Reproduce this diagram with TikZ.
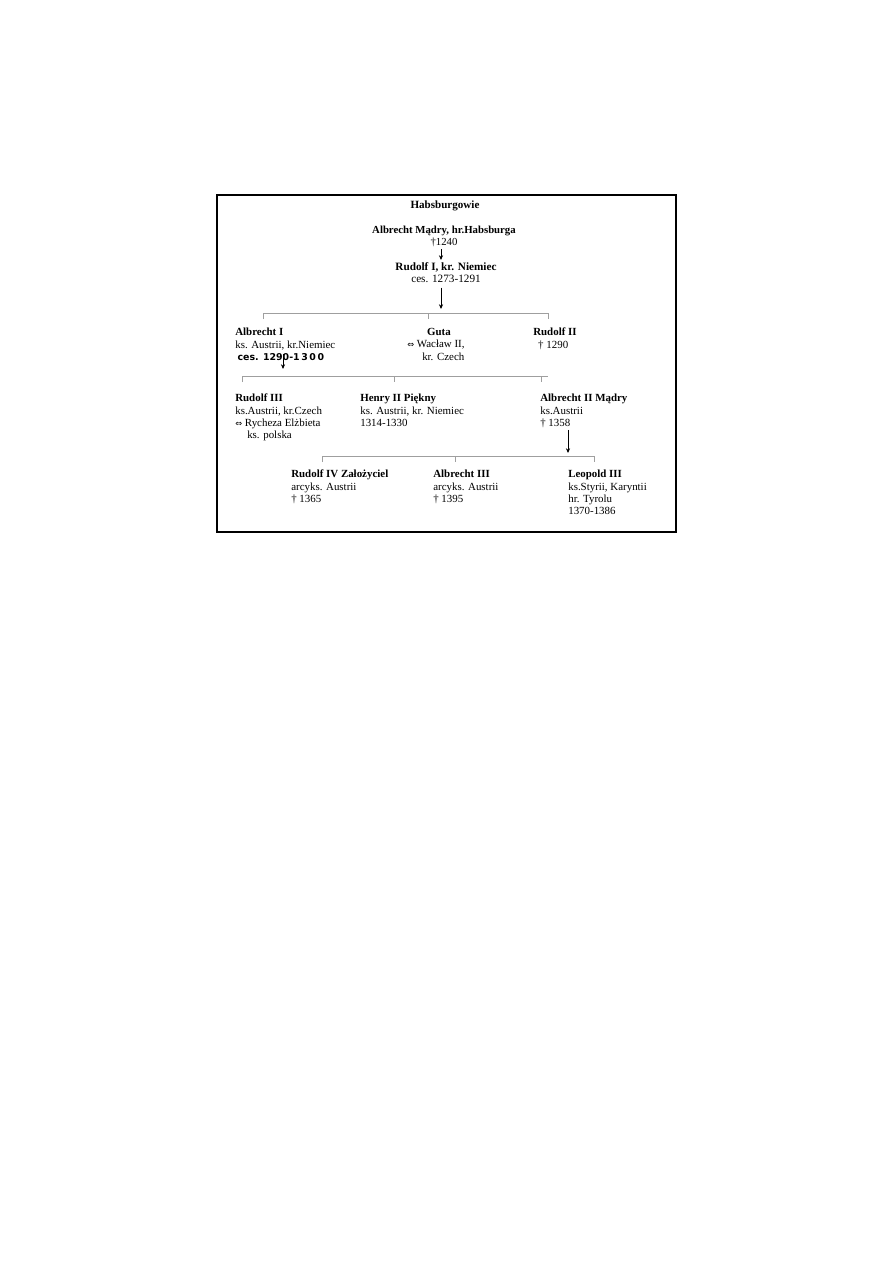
\documentclass[tikz,border=0pt]{standalone}
\usepackage{fontspec}
\setmainfont{Liberation Serif}
\newfontfamily\symfont{DejaVu Sans}
\usetikzlibrary{arrows.meta,positioning,calc}
\newcommand{\marr}{{\symfont\fontsize{5.5}{8}\selectfont ⇔}}
\newcommand{\cesfont}{\symfont\bfseries\fontsize{6.3}{8}\selectfont}
\tikzset{
  person/.style={inner sep=0pt, align=left, anchor=north west, font=\fontsize{7.3}{8.2}\selectfont},
  personc/.style={person, align=center, anchor=north},
  bracket/.style={draw=gray!75, line width=0.5pt},
  arrow/.style={-{Stealth[length=3.2pt,width=2.8pt]}, line width=0.6pt},
  frame/.style={draw, line width=0.8pt}
}
\begin{document}
\begin{tikzpicture}[x=0.023516cm,y=-0.023516cm]
  \useasboundingbox (0,0) rectangle (893,1263);
  \draw[frame] (217,195) rectangle (676,532);
  % top
  \node[font=\bfseries\fontsize{7.4}{8.2}\selectfont, inner sep=0pt] (title) at (445,206) {Habsburgowie};
  \node[personc, font=\fontsize{7.2}{8}\selectfont] (albm) at (444,226) {\textbf{Albrecht Mądry, hr.Habsburga}\\†1240};
  \node[personc, font=\fontsize{7.5}{8}\selectfont] (rud1) at (446,262) {\textbf{Rudolf I, kr. Niemiec}\\ces. 1273-1291};
  \coordinate (b1top) at (441,309);
  \draw[arrow] (albm.south -| b1top) ++(0,2) -- ($(rud1.north -| b1top)+(0,-2)$);
  \draw[arrow] (rud1.south -| b1top) ++(0,5) -- (b1top);
  % first bracket
  \coordinate (b1l) at (263,313);
  \coordinate (b1m) at (428,313);
  \coordinate (b1r) at (548,313);
  \draw[bracket] (b1l) ++(0,6) -- (b1l) -- (b1r) -- ++(0,6);
  \draw[bracket] (b1m) -- ++(0,6);
  % children of Rudolf I
  \node[person] (alb1) at (235,328) {\textbf{Albrecht I}\\ks. Austrii, kr.Niemiec\\\hspace*{1.5pt}{\cesfont ces. 1290-1\,3\,0\,0}};
  \node[person] (guta) at (407,328) {\hspace*{13.3pt}\textbf{Guta}\\\marr{} Wacław II,\\\hspace*{10pt}kr. Czech};
  \node[person] (rud2) at (533,328) {\textbf{Rudolf II}\\\hspace*{3.3pt}† 1290};
  \coordinate (b2a) at (283,369);
  \draw[arrow] (alb1.south -| b2a) ++(0,-7) -- (b2a);
  % second bracket
  \coordinate (b2l) at (242,376);
  \coordinate (b2m) at (394,376);
  \coordinate (b2r) at (548,376);
  \coordinate (b2t) at (541,376);
  \draw[bracket] (b2l) ++(0,6) -- (b2l) -- (b2r);
  \draw[bracket] (b2m) -- ++(0,6);
  \draw[bracket] (b2t) -- ++(0,6);
  % children of Albrecht I
  \node[person] (rud3) at (235,394) {\textbf{Rudolf III}\\ks.Austrii, kr.Czech\\\marr{} Rycheza Elżbieta\\\hspace*{8pt}ks. polska};
  \node[person] (hen2) at (360,394) {\textbf{Henry II Piękny}\\ks. Austrii, kr. Niemiec\\1314-1330};
  \node[person] (alb2) at (540,394) {\textbf{Albrecht II Mądry}\\ks.Austrii\\† 1358};
  \coordinate (b3a) at (568,453);
  \draw[arrow] (alb2.south -| b3a) ++(0,2) -- (b3a);
  % third bracket
  \coordinate (b3l) at (322,456);
  \coordinate (b3m) at (455,456);
  \coordinate (b3r) at (594,456);
  \draw[bracket] (b3l) ++(0,6) -- (b3l) -- (b3r) -- ++(0,6);
  \draw[bracket] (b3m) -- ++(0,6);
  % children of Albrecht II
  \node[person] (rud4) at (291,470) {\textbf{Rudolf IV Założyciel}\\arcyks. Austrii\\† 1365};
  \node[person] (alb3) at (433,470) {\textbf{Albrecht III}\\arcyks. Austrii\\† 1395};
  \node[person] (leo3) at (568,470) {\textbf{Leopold III}\\ks.Styrii, Karyntii\\hr. Tyrolu\\1370-1386};
\end{tikzpicture}
\end{document}
